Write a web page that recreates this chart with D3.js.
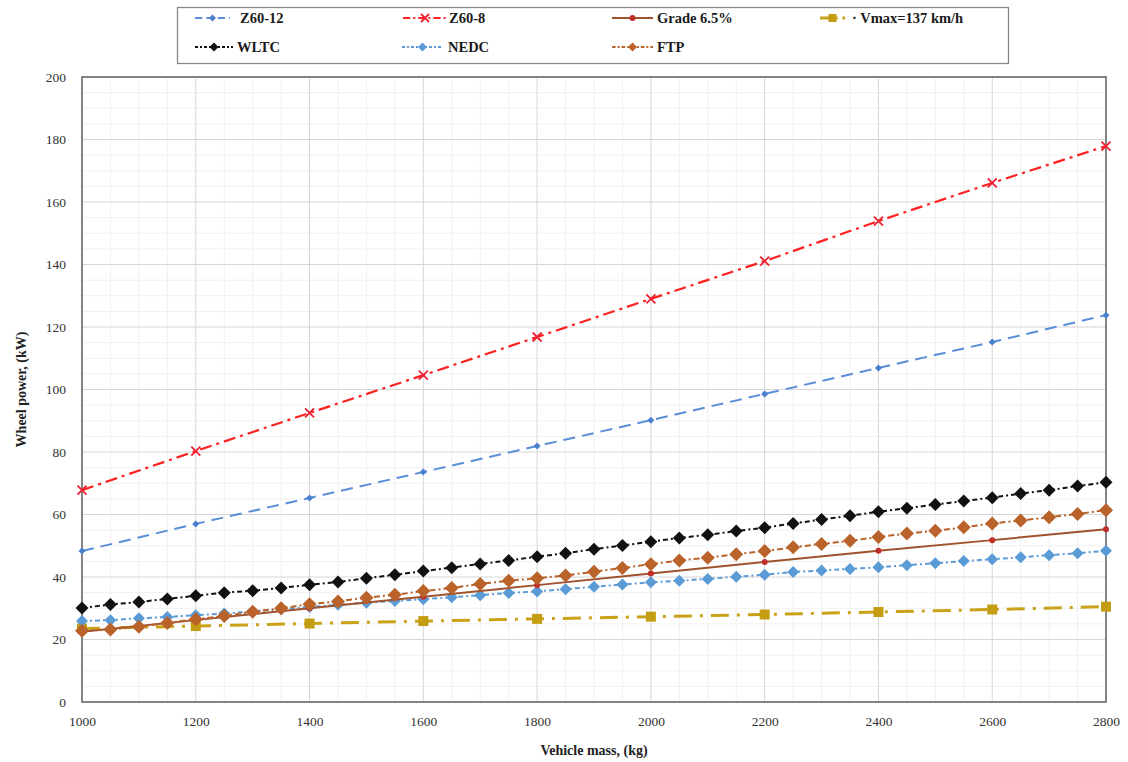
<!DOCTYPE html>
<html><head><meta charset="utf-8">
<script src="https://cdn.jsdelivr.net/npm/d3@7"></script>
<style>body{margin:0;background:#fff}svg{display:block}text{font-family:"Liberation Serif","Times New Roman",serif}</style>
</head><body>
<svg id="c" width="1128" height="762"></svg>
<script>
const massCoarse = [1000,1200,1400,1600,1800,2000,2200,2400,2600,2800];
const massFine = d3.range(1000, 2801, 50);
const z6012 = [48.3,57,65.3,73.6,81.9,90.2,98.6,106.9,115.2,123.8];
const z608 = [67.8,80.3,92.5,104.6,116.8,129,141.1,153.9,166.1,177.9];
const grade = [22.5,26.2,30,33.7,37.4,41.1,44.8,48.4,51.8,55.3];
const vmax = [23.5,24.3,25.1,25.9,26.6,27.3,28.0,28.8,29.6,30.5];
const wltc = [30.1,31.2,32,33,34,35,35.6,36.5,37.5,38.4,39.6,40.7,41.9,43,44.2,45.3,46.5,47.6,48.9,50.1,51.3,52.5,53.5,54.7,55.8,57.1,58.4,59.6,60.9,62,63.2,64.3,65.4,66.7,67.8,69.1,70.3];
const nedc = [25.9,26.2,26.8,27.2,27.8,28.3,29,29.7,30.4,31.1,31.8,32.3,32.9,33.5,34.2,34.9,35.4,36.1,36.9,37.6,38.3,38.8,39.4,40.1,40.7,41.6,42.1,42.6,43.1,43.8,44.4,45.1,45.7,46.3,47,47.6,48.4];
const ftp = [22.8,23.2,24.1,25.3,26.5,27.5,28.9,30,31.3,32.2,33.4,34.3,35.5,36.5,37.8,38.8,39.6,40.5,41.7,42.9,44.1,45.3,46.2,47.3,48.3,49.5,50.6,51.6,52.8,53.9,54.8,55.9,57.1,58.1,59.1,60.2,61.4];
const xTicks = [1000,1200,1400,1600,1800,2000,2200,2400,2600,2800];
const yTicks = [0,20,40,60,80,100,120,140,160,180,200];
const seriesNames = ["Z60-12","Z60-8","Grade 6.5%","Vmax=137 km/h","WLTC","NEDC","FTP"];

const svg = d3.select("#c");
const x = d3.scaleLinear().domain([1000,2800]).range([82,1106]);
const y = d3.scaleLinear().domain([0,200]).range([702,77]);

svg.append("rect").attr("width",1128).attr("height",762).attr("fill","#fff");

// minor grid
const g = svg.append("g");
g.selectAll(".mx").data(d3.range(1000,2801,50).filter(v=>v%200!==0)).join("line")
 .attr("x1",d=>x(d)).attr("x2",d=>x(d)).attr("y1",y(0)).attr("y2",y(200))
 .attr("stroke","#f0f0f0").attr("stroke-width",1);
g.selectAll(".my").data(d3.range(0,201,5).filter(v=>v%20!==0)).join("line")
 .attr("x1",x(1000)).attr("x2",x(2800)).attr("y1",d=>y(d)).attr("y2",d=>y(d))
 .attr("stroke","#f0f0f0").attr("stroke-width",1);
// major grid
g.selectAll(".Mx").data(xTicks).join("line")
 .attr("x1",d=>x(d)).attr("x2",d=>x(d)).attr("y1",y(0)).attr("y2",y(200))
 .attr("stroke","#d6d6d6").attr("stroke-width",1);
g.selectAll(".My").data(yTicks).join("line")
 .attr("x1",x(1000)).attr("x2",x(2800)).attr("y1",d=>y(d)).attr("y2",d=>y(d))
 .attr("stroke","#d6d6d6").attr("stroke-width",1);

// axes
const xAxis = d3.axisBottom(x).tickValues(xTicks).tickSize(0).tickPadding(14).tickFormat(d3.format("d"));
const yAxis = d3.axisLeft(y).tickValues(yTicks).tickSize(0).tickPadding(16);
const gx = svg.append("g").attr("transform",`translate(0,${y(0)})`).call(xAxis);
const gy = svg.append("g").attr("transform",`translate(${x(1000)},0)`).call(yAxis);
[gx,gy].forEach(a=>{a.select(".domain").remove();a.selectAll("text").attr("font-size",13.5).attr("fill","#333").attr("font-family","Liberation Serif");});

// plot frame
svg.append("rect").attr("x",x(1000)).attr("y",y(200)).attr("width",x(2800)-x(1000)).attr("height",y(0)-y(200))
 .attr("fill","none").attr("stroke","#6b6b6b").attr("stroke-width",1.6);

// titles
svg.append("text").attr("x",(x(1000)+x(2800))/2).attr("y",755).attr("text-anchor","middle")
 .attr("font-size",14).attr("font-weight","bold").attr("fill","#222").text("Vehicle mass, (kg)");
svg.append("text").attr("transform",`translate(26,${(y(0)+y(200))/2}) rotate(-90)`).attr("text-anchor","middle")
 .attr("font-size",14).attr("font-weight","bold").attr("fill","#222").text("Wheel power, (kW)");

const diamond = r => `M0,${-r}L${r},0L0,${r}L${-r},0Z`;
const cross = r => `M${-r},${-r}L${r},${r}M${-r},${r}L${r},${-r}`;
const square = r => `M${-r},${-r}H${r}V${r}H${-r}Z`;

const series = [
 {name:seriesNames[0], xs:massCoarse, ys:z6012, color:"#5a8ed8", w:2, dash:"12,7", marker:"diamond", r:3.5, mcolor:"#4a7fd0"},
 {name:seriesNames[1], xs:massCoarse, ys:z608, color:"#ff2020", w:2.2, dash:"12,5,3,5", marker:"cross", r:4.5, mcolor:"#ee2233"},
 {name:seriesNames[2], xs:massCoarse, ys:grade, color:"#a0522d", w:2, dash:null, marker:"dot", r:3, mcolor:"#c0302a"},
 {name:seriesNames[3], xs:massCoarse, ys:vmax, color:"#c9a21a", w:3, dash:"18,8,3,8", marker:"square", r:5, mcolor:"#c49d12"},
 {name:seriesNames[4], xs:massFine, ys:wltc, color:"#111", w:2, dash:"5,3,2,3", marker:"diamond", r:6.5, mcolor:"#111"},
 {name:seriesNames[5], xs:massFine, ys:nedc, color:"#5b9bd5", w:2, dash:"5,3,2,3", marker:"diamond", r:6, mcolor:"#5b9bd5"},
 {name:seriesNames[6], xs:massFine, ys:ftp, color:"#b9622a", w:2, dash:"6,3,2,3", marker:"diamond", r:7, mcolor:"#b9622a"}
];
const order = [3,5,2,6,4,0,1];
const plot = svg.append("g");
const line = d3.line().x(d=>x(d[0])).y(d=>y(d[1]));
function drawMarker(sel, s){
  if(s.marker==="dot") sel.append("circle").attr("r",s.r).attr("fill",s.mcolor);
  else if(s.marker==="cross") sel.append("path").attr("d",cross(s.r)).attr("stroke",s.mcolor).attr("stroke-width",1.8).attr("fill","none");
  else if(s.marker==="square") sel.append("path").attr("d",square(s.r)).attr("fill",s.mcolor);
  else sel.append("path").attr("d",diamond(s.r)).attr("fill",s.mcolor);
}
order.forEach(i=>{
  const s = series[i];
  const pts = s.xs.map((m,k)=>[m,s.ys[k]]);
  plot.append("path").datum(pts).attr("d",line).attr("fill","none").attr("stroke",s.color)
    .attr("stroke-width",s.w).attr("stroke-dasharray",s.dash);
  pts.forEach(p=>{
    const gm = plot.append("g").attr("transform",`translate(${x(p[0])},${y(p[1])})`);
    drawMarker(gm,s);
  });
});

// legend
const lg = svg.append("g");
lg.append("rect").attr("x",177.5).attr("y",7.5).attr("width",831).attr("height",56)
 .attr("fill","#fff").attr("stroke","#888").attr("stroke-width",1.3);
const legPos = [
 {i:0, x1:195, x2:230, tx:240, y:18},
 {i:1, x1:403, x2:447, tx:449, y:18},
 {i:2, x1:612, x2:653, tx:657, y:18},
 {i:3, x1:820, x2:845, tx:852, y:18, pre:"· "},
 {i:4, x1:195, x2:233, tx:237, y:47},
 {i:5, x1:402, x2:443, tx:448, y:47},
 {i:6, x1:612, x2:653, tx:657, y:47}
];
legPos.forEach(p=>{
  const s = series[p.i];
  lg.append("line").attr("x1",p.x1).attr("x2",p.x2).attr("y1",p.y).attr("y2",p.y)
    .attr("stroke",s.color).attr("stroke-width",s.w).attr("stroke-dasharray",s.dash?s.dash.split(",").map(v=>Math.max(2,v*0.6)).join(","):null);
  const gm = lg.append("g").attr("transform",`translate(${(p.x1+p.x2)/2},${p.y})`);
  drawMarker(gm, Object.assign({}, s, {r: s.marker==="diamond" ? Math.min(s.r,4.5) : Math.min(s.r,4)}));
  lg.append("text").attr("x",p.tx).attr("y",p.y+5).attr("font-size",14.5).attr("font-weight","bold").attr("fill","#1a1a1a")
    .text((p.pre||"")+s.name);
});
</script>
</body></html>
